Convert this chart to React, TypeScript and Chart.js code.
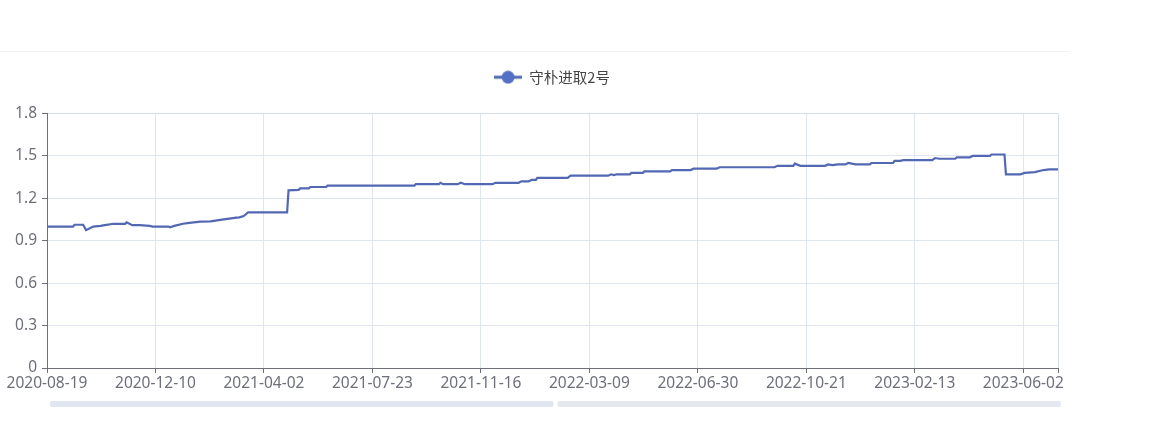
import { useEffect, useRef } from "react";
import { Chart, registerables } from "chart.js";

Chart.register(...registerables);

const seriesName = "守朴进取2号";
const tickLabels = [
  "2020-08-19",
  "2020-12-10",
  "2021-04-02",
  "2021-07-23",
  "2021-11-16",
  "2022-03-09",
  "2022-06-30",
  "2022-10-21",
  "2023-02-13",
  "2023-06-02",
];
const labelEvery = 75;
const lastDayIndex = 699;
const yTicks = [0, 0.3, 0.6, 0.9, 1.2, 1.5, 1.8];

const dayIndex = [
  0, 18, 19, 25, 27, 30, 32, 37, 40, 46, 54, 55, 57, 59, 64, 71, 73, 84, 85, 88,
  94, 97, 106, 113, 121, 131, 133, 136, 139, 166, 167, 174, 175, 181, 182, 193,
  194, 254, 255, 271, 272, 274, 284, 286, 289, 308, 310, 326, 328, 333, 335, 338,
  339, 360, 362, 388, 390, 392, 394, 403, 404, 412, 413, 431, 432, 445, 447, 463,
  465, 503, 505, 516, 517, 521, 538, 540, 543, 547, 552, 554, 559, 569, 570, 585,
  586, 590, 592, 612, 614, 617, 628, 629, 638, 640, 652, 653, 662, 663, 673, 676,
  683, 689, 693, 699,
];
const navValues = [
  1.0, 1.0, 1.013, 1.013, 0.975, 0.99, 1.0, 1.005, 1.01, 1.02, 1.02, 1.03, 1.02,
  1.01, 1.01, 1.005, 1.0, 1.0, 0.995, 1.005, 1.02, 1.025, 1.035, 1.037, 1.05,
  1.063, 1.065, 1.075, 1.1, 1.1, 1.256, 1.26, 1.27, 1.27, 1.28, 1.28, 1.29, 1.29,
  1.3, 1.3, 1.31, 1.3, 1.3, 1.31, 1.3, 1.3, 1.31, 1.31, 1.32, 1.32, 1.33, 1.33,
  1.345, 1.345, 1.36, 1.36, 1.37, 1.365, 1.37, 1.37, 1.38, 1.38, 1.39, 1.39, 1.4,
  1.4, 1.41, 1.41, 1.42, 1.42, 1.43, 1.43, 1.445, 1.43, 1.43, 1.44, 1.435, 1.44,
  1.44, 1.45, 1.44, 1.44, 1.45, 1.45, 1.465, 1.465, 1.47, 1.47, 1.485, 1.48,
  1.48, 1.49, 1.49, 1.5, 1.5, 1.51, 1.51, 1.37, 1.37, 1.38, 1.385, 1.4, 1.405,
  1.405,
];

const LINE_COLOR = "#5268b3";
const ICON_COLOR = "#5470c6";
const AXIS_COLOR = "#6E7079";
const GRID_COLOR = "#E0E6F1";
const BORDER_COLOR = "#d3dbec";
const TICK_FONT = { family: "'Noto Sans', sans-serif", size: 15.5 };

function makeLegendIcon(): HTMLCanvasElement {
  const c = document.createElement("canvas");
  c.width = 28;
  c.height = 14;
  const g = c.getContext("2d")!;
  g.strokeStyle = LINE_COLOR;
  g.lineWidth = 3;
  g.beginPath();
  g.moveTo(0, 7);
  g.lineTo(28, 7);
  g.stroke();
  g.fillStyle = ICON_COLOR;
  g.beginPath();
  g.arc(14, 7, 6.5, 0, Math.PI * 2);
  g.fill();
  return c;
}

const legendSpacer = {
  id: "legendSpacer",
  afterInit(chart: any) {
    const lg = chart.legend;
    if (!lg || lg.__patched) return;
    const fit = lg.fit;
    lg.fit = function (this: any) {
      fit.call(this);
      this.height += 19;
    };
    lg.__patched = true;
  },
};

const decor = {
  id: "decor",
  beforeDraw(chart: any) {
    const { ctx } = chart;
    ctx.save();
    ctx.fillStyle = "#ffffff";
    ctx.fillRect(0, 0, chart.width, chart.height);
    ctx.strokeStyle = "#f1f1f3";
    ctx.lineWidth = 1;
    ctx.beginPath();
    ctx.moveTo(0, 51.5);
    ctx.lineTo(chart.chartArea.right + 12, 51.5);
    ctx.stroke();
    ctx.restore();
  },
  afterDraw(chart: any) {
    const { ctx, chartArea } = chart;
    const y = chartArea.bottom + 33;
    const h = 6;
    const l = chartArea.left + 3;
    const r = chartArea.right + 3;
    const mid = (l + r) / 2 - 2;
    ctx.save();
    ctx.fillStyle = "#e2e6f0";
    ctx.beginPath();
    ctx.roundRect(l, y, mid - l, h, 2);
    ctx.fill();
    ctx.fillStyle = "#e5e8f1";
    ctx.beginPath();
    ctx.roundRect(mid + 4, y, r - mid - 4, h, 2);
    ctx.fill();
    ctx.restore();
  },
};

export default function App() {
  const ref = useRef<HTMLCanvasElement | null>(null);

  useEffect(() => {
    if (!ref.current) return;
    const points = dayIndex.map((x, i) => ({ x, y: navValues[i] }));
    const tickPositions = tickLabels.map((_, i) => i * labelEvery).concat([lastDayIndex]);

    const chart = new Chart(ref.current, {
      type: "line",
      data: {
        datasets: [
          {
            label: seriesName,
            data: points,
            borderColor: LINE_COLOR,
            backgroundColor: ICON_COLOR,
            borderWidth: 2.2,
            pointRadius: 0,
            tension: 0,
            fill: false,
            yAxisID: "y",
          },
        ],
      },
      plugins: [legendSpacer, decor],
      options: {
        animation: false,
        responsive: false,
        events: [],
        layout: { padding: { left: 0, right: 72, top: 60, bottom: 0 } },
        plugins: {
          tooltip: { enabled: false },
          legend: {
            display: true,
            position: "top",
            labels: {
              usePointStyle: true,
              pointStyle: makeLegendIcon() as any,
              pointStyleWidth: 28,
              padding: 10,
              color: "#444",
              font: { family: "'Noto Sans CJK SC', sans-serif", size: 14.5 },
            },
          },
        },
        scales: {
          x: {
            type: "linear",
            min: 0,
            max: lastDayIndex,
            afterBuildTicks(scale: any) {
              scale.ticks = tickPositions.map((v) => ({ value: v }));
            },
            afterFit(scale: any) {
              scale.height = 72;
            },
            ticks: {
              autoSkip: false,
              maxRotation: 0,
              minRotation: 0,
              padding: 1,
              color: AXIS_COLOR,
              font: TICK_FONT,
              callback(value: any) {
                const i = tickPositions.indexOf(Number(value));
                return i >= 0 && i < tickLabels.length ? tickLabels[i] : "";
              },
            },
            grid: {
              color: (c: any) => (c.tick && c.tick.value === lastDayIndex ? BORDER_COLOR : GRID_COLOR),
              tickColor: AXIS_COLOR,
              tickLength: 5,
              lineWidth: 1,
            },
            border: { display: true, color: AXIS_COLOR, width: 1 },
          },
          y: {
            type: "linear",
            position: "left",
            min: 0,
            max: 1.8,
            afterBuildTicks(scale: any) {
              scale.ticks = yTicks.map((v) => ({ value: v }));
            },
            afterFit(scale: any) {
              scale.width = 47;
            },
            ticks: {
              autoSkip: false,
              padding: 5,
              color: AXIS_COLOR,
              font: TICK_FONT,
              callback(value: any) {
                return String(Math.round(Number(value) * 10) / 10);
              },
            },
            grid: {
              color: (c: any) => (c.tick && c.tick.value === 1.8 ? BORDER_COLOR : GRID_COLOR),
              tickColor: AXIS_COLOR,
              tickLength: 5,
              lineWidth: 1,
            },
            border: { display: true, color: AXIS_COLOR, width: 1 },
          },
          spacer: {
            type: "linear",
            position: "right",
            min: 0,
            max: 1,
            afterFit(scale: any) {
              scale.width = 46;
            },
            ticks: { display: false },
            grid: { display: false },
            border: { display: false },
          },
        },
      },
    } as any);

    return () => chart.destroy();
  }, []);

  return (
    <div style={{ position: "absolute", left: 0, top: 0, width: 1176, height: 440, background: "#fff" }}>
      <canvas ref={ref} width={1176} height={440} style={{ display: "block", width: 1176, height: 440 }} />
    </div>
  );
}
